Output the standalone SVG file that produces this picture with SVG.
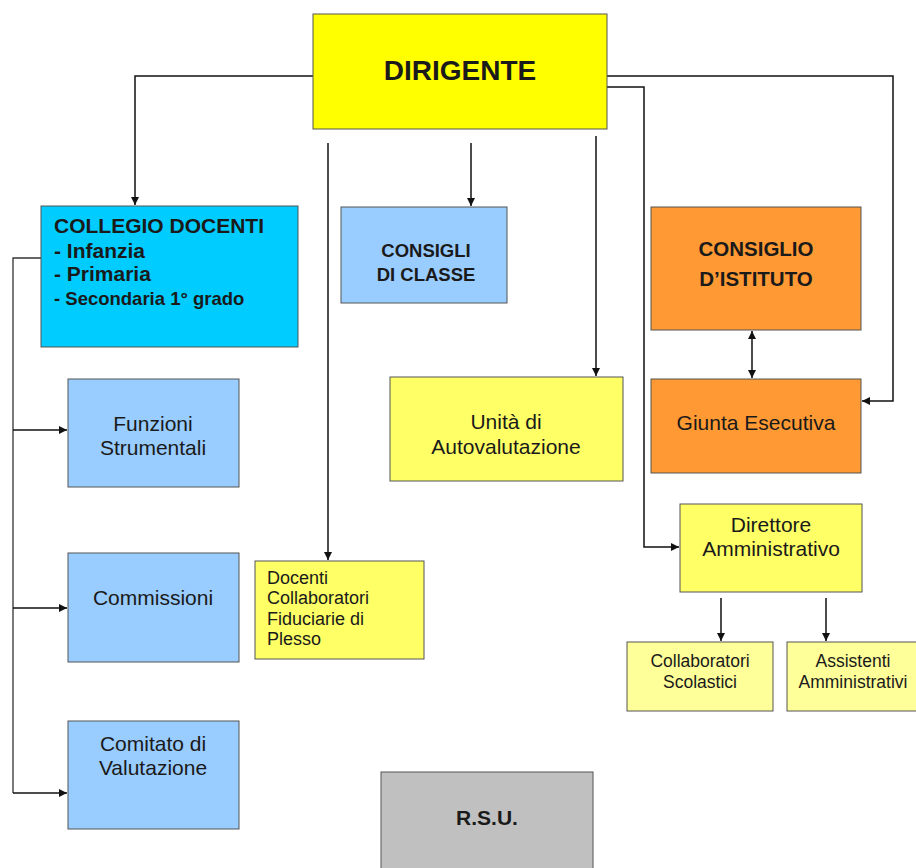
<svg xmlns="http://www.w3.org/2000/svg" width="916" height="868" viewBox="0 0 916 868">
<defs>
<marker id="ah" viewBox="0 0 10 10" refX="10" refY="5" markerWidth="8" markerHeight="8" markerUnits="userSpaceOnUse" orient="auto-start-reverse">
<path d="M0,0 L10,5 L0,10 z" fill="#111"/>
</marker>
<style>
.box{stroke:#555;stroke-width:1}
.t{font-family:"Liberation Sans",Arial,sans-serif;fill:#1a1a1a}
.b{font-weight:bold}
.c{text-anchor:middle}
.ln{fill:none;stroke:#333;stroke-width:1.3}
.ar{fill:none;stroke:#111;stroke-width:1.5;marker-end:url(#ah)}
</style>
</defs>
<rect width="916" height="868" fill="#fff"/>
<g id="connectors">
<polyline class="ar" points="313,76 135,76 135,205"/>
<polyline class="ar" points="607,76 893,76 893,401 862,401"/>
<polyline class="ar" points="607,87 644,87 644,547 679,547"/>
<line class="ar" x1="328" y1="143" x2="328" y2="560"/>
<line class="ar" x1="471" y1="143" x2="471" y2="206"/>
<line class="ar" x1="596" y1="136" x2="596" y2="376"/>
<polyline class="ln" points="41,258 13,258 13,793"/>
<line class="ar" x1="13" y1="430" x2="67" y2="430"/>
<line class="ar" x1="13" y1="608" x2="67" y2="608"/>
<line class="ar" x1="13" y1="793" x2="67" y2="793"/>
<line class="ar" x1="752" y1="331" x2="752" y2="378" style="marker-start:url(#ah)"/>
<line class="ar" x1="721" y1="598" x2="721" y2="641"/>
<line class="ar" x1="826" y1="598" x2="826" y2="641"/>
</g>
<g id="dirigente">
<rect class="box" x="313" y="14" width="294" height="115" fill="#FFFF00"/>
<text class="t b c" x="460" y="80" font-size="28">DIRIGENTE</text>
</g>
<g id="collegio">
<rect class="box" x="41" y="206" width="257" height="141" fill="#00CCFF"/>
<text class="t b" x="54" y="233" font-size="21">COLLEGIO DOCENTI</text>
<text class="t b" x="54" y="258" font-size="21">- Infanzia</text>
<text class="t b" x="54" y="281" font-size="21">- Primaria</text>
<text class="t b" x="54" y="305" font-size="18.5">- Secondaria 1° grado</text>
</g>
<g id="consigli-classe">
<rect class="box" x="341" y="207" width="166" height="96" fill="#99CCFF"/>
<text class="t b c" x="426" y="257" font-size="18.5">CONSIGLI</text>
<text class="t b c" x="426" y="281" font-size="18.5">DI CLASSE</text>
</g>
<g id="consiglio-istituto">
<rect class="box" x="651" y="207" width="210" height="123" fill="#FF9933"/>
<text class="t b c" x="756" y="256" font-size="20.5">CONSIGLIO</text>
<text class="t b c" x="756" y="286" font-size="20.5">D’ISTITUTO</text>
</g>
<g id="giunta">
<rect class="box" x="651" y="379" width="210" height="94" fill="#FF9933"/>
<text class="t c" x="756" y="430" font-size="21">Giunta Esecutiva</text>
</g>
<g id="unita">
<rect class="box" x="390" y="377" width="233" height="104" fill="#FFFF66"/>
<text class="t c" x="506" y="429" font-size="21">Unità di</text>
<text class="t c" x="506" y="454" font-size="21">Autovalutazione</text>
</g>
<g id="funzioni">
<rect class="box" x="68" y="379" width="171" height="108" fill="#99CCFF"/>
<text class="t c" x="153" y="431" font-size="21">Funzioni</text>
<text class="t c" x="153" y="455" font-size="21">Strumentali</text>
</g>
<g id="commissioni">
<rect class="box" x="68" y="553" width="171" height="109" fill="#99CCFF"/>
<text class="t c" x="153" y="605" font-size="21">Commissioni</text>
</g>
<g id="comitato">
<rect class="box" x="68" y="721" width="171" height="108" fill="#99CCFF"/>
<text class="t c" x="153" y="751" font-size="21">Comitato di</text>
<text class="t c" x="153" y="775" font-size="21">Valutazione</text>
</g>
<g id="docenti-collaboratori">
<rect class="box" x="255" y="561" width="169" height="98" fill="#FFFF66"/>
<text class="t" x="267" y="584" font-size="18">Docenti</text>
<text class="t" x="267" y="604" font-size="18">Collaboratori</text>
<text class="t" x="267" y="625" font-size="18">Fiduciarie di</text>
<text class="t" x="267" y="645" font-size="18">Plesso</text>
</g>
<g id="direttore">
<rect class="box" x="680" y="504" width="182" height="88" fill="#FFFF66"/>
<text class="t c" x="771" y="532" font-size="21">Direttore</text>
<text class="t c" x="771" y="556" font-size="21">Amministrativo</text>
</g>
<g id="collaboratori-scolastici">
<rect class="box" x="627" y="642" width="146" height="69" fill="#FFFF99"/>
<text class="t c" x="700" y="667" font-size="17.5">Collaboratori</text>
<text class="t c" x="700" y="688" font-size="17.5">Scolastici</text>
</g>
<g id="assistenti">
<rect class="box" x="787" y="642" width="140" height="69" fill="#FFFF99"/>
<text class="t c" x="853" y="667" font-size="17.5">Assistenti</text>
<text class="t c" x="853" y="688" font-size="17.5">Amministrativi</text>
</g>
<g id="rsu">
<rect class="box" x="381" y="772" width="212" height="110" fill="#C0C0C0"/>
<text class="t b c" x="487" y="825" font-size="21">R.S.U.</text>
</g>
</svg>
